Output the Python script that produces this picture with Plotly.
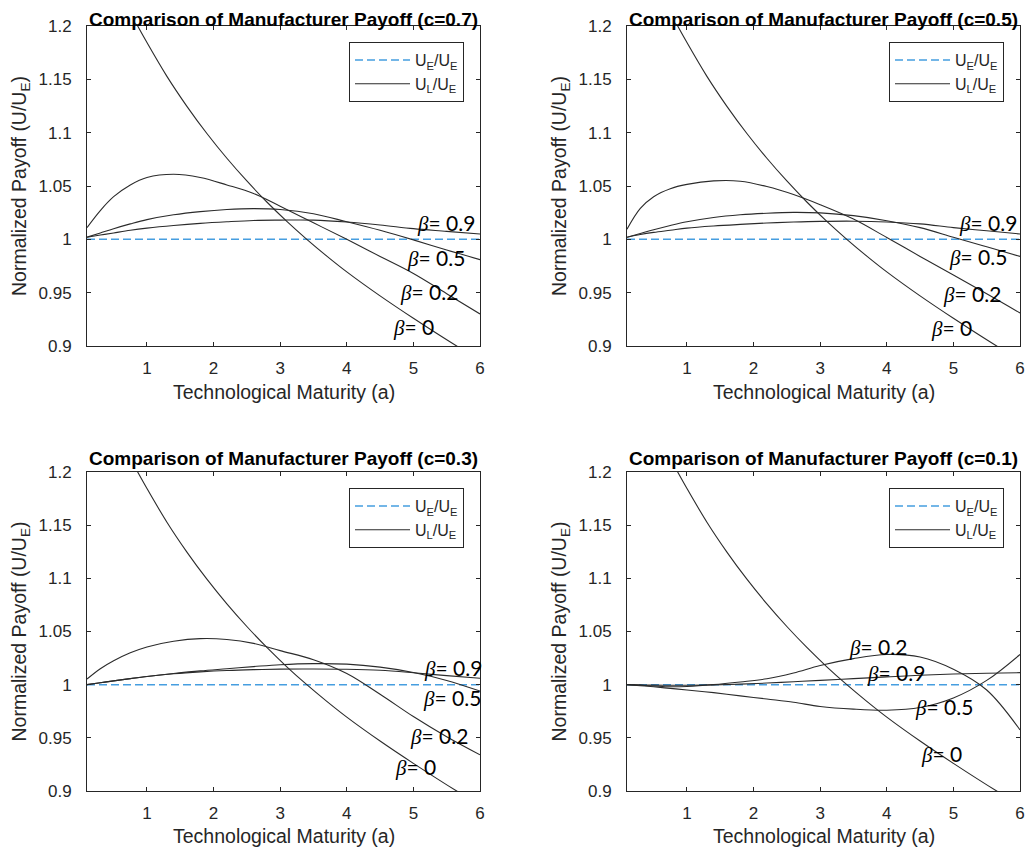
import plotly.graph_objects as go

# ---------------- data ----------------
C_VALUES = ["0.7", "0.5", "0.3", "0.1"]

A_GRID = [0.1, 0.3, 0.5, 0.75, 1.0, 1.4, 1.8, 2.2, 2.6, 3.0, 3.5, 4.0, 4.5, 5.0, 5.5, 6.0]
A_GRID_B0 = [0.7, 0.8, 1.0, 1.3, 1.6, 1.9, 2.2, 2.5, 2.8, 3.1, 3.4, 3.7, 4.0, 4.5, 5.0, 5.65, 6.0]

BASE_X = [0.1, 6.0]
BASE_Y = [1.0, 1.0]

# c = 0.7
C07_B0 = [1.219, 1.207, 1.1845, 1.1528, 1.1247, 1.0992, 1.076, 1.0547, 1.035, 1.0168, 1.0, 0.9843, 0.9695, 0.947, 0.926, 0.900, 0.887]
C07_B2 = [1.011, 1.027, 1.040, 1.051, 1.058, 1.061, 1.058, 1.051, 1.043, 1.031, 1.0155, 1.0, 0.984, 0.968, 0.949, 0.930]
C07_B5 = [1.002, 1.006, 1.010, 1.0145, 1.0185, 1.023, 1.026, 1.028, 1.0288, 1.028, 1.024, 1.0165, 1.0085, 0.9995, 0.990, 0.981]
C07_B9 = [1.002, 1.004, 1.006, 1.0085, 1.0105, 1.013, 1.015, 1.0165, 1.0177, 1.018, 1.018, 1.0163, 1.0135, 1.010, 1.0075, 1.005]

# c = 0.5
C05_B0 = [1.219, 1.207, 1.1845, 1.1528, 1.1247, 1.0992, 1.076, 1.0547, 1.035, 1.0168, 1.0, 0.9843, 0.9695, 0.947, 0.926, 0.900, 0.887]
C05_B2 = [1.0095, 1.029, 1.040, 1.0475, 1.0515, 1.0548, 1.0545, 1.0495, 1.042, 1.0325, 1.019, 1.0017, 0.984, 0.9665, 0.949, 0.931]
C05_B5 = [1.002, 1.0055, 1.009, 1.013, 1.0165, 1.0205, 1.023, 1.0245, 1.0253, 1.0248, 1.0222, 1.0175, 1.011, 1.002, 0.993, 0.984]
C05_B9 = [1.002, 1.0045, 1.0065, 1.0085, 1.0105, 1.0125, 1.014, 1.0153, 1.0162, 1.0168, 1.017, 1.0163, 1.0145, 1.011, 1.008, 1.005]

# c = 0.3
C03_B0 = [1.219, 1.207, 1.1845, 1.1528, 1.1247, 1.0992, 1.076, 1.0547, 1.035, 1.0168, 1.0, 0.9843, 0.9695, 0.947, 0.926, 0.900, 0.887]
C03_B2 = [1.0053, 1.015, 1.0225, 1.030, 1.0355, 1.0408, 1.0433, 1.0425, 1.0388, 1.032, 1.0235, 1.0105, 0.991, 0.970, 0.951, 0.934]
C03_B5 = [1.0, 1.0018, 1.0036, 1.0057, 1.0077, 1.0105, 1.013, 1.015, 1.017, 1.0188, 1.0198, 1.0193, 1.0165, 1.0115, 1.004, 0.994]
C03_B9 = [1.0, 1.0018, 1.0036, 1.0057, 1.0077, 1.0102, 1.012, 1.0133, 1.0141, 1.0146, 1.0148, 1.0145, 1.0135, 1.0112, 1.0085, 1.006]

# c = 0.1
C01_B0 = [1.219, 1.207, 1.1845, 1.1528, 1.1247, 1.0992, 1.076, 1.0547, 1.035, 1.0168, 1.0, 0.9843, 0.9695, 0.947, 0.926, 0.900, 0.887]
C01_B2 = [1.0, 0.9995, 0.9988, 0.998, 0.9983, 1.0, 1.0025, 1.0055, 1.011, 1.018, 1.0245, 1.0284, 1.026, 1.0145, 0.995, 0.9575]
C01_B5 = [1.0, 0.999, 0.998, 0.9965, 0.995, 0.9925, 0.9895, 0.9865, 0.9835, 0.9795, 0.977, 0.976, 0.9785, 0.9875, 1.004, 1.0284]
C01_B9 = [1.0, 0.9998, 0.9996, 0.9995, 0.9995, 0.9998, 1.0005, 1.0015, 1.0028, 1.004, 1.0057, 1.0073, 1.0088, 1.0100, 1.0108, 1.0113]

Y_TICKS = [0.9, 0.95, 1.0, 1.05, 1.1, 1.15, 1.2]
Y_TICK_TEXT = ["0.9", "0.95", "1", "1.05", "1.1", "1.15", "1.2"]
X_TICKS = [1, 2, 3, 4, 5, 6]

BETA_NAMES = ["0", "0.2", "0.5", "0.9"]

# label anchor positions (left edge of text, vertical centre) in data units
LABELS_C07 = [(4.66, 0.918), (4.77, 0.951), (4.87, 0.9825), (5.02, 1.0153)]
LABELS_C05 = [(4.63, 0.917), (4.81, 0.949), (4.90, 0.9834), (5.05, 1.0153)]
LABELS_C03 = [(4.69, 0.9226), (4.92, 0.9517), (5.11, 0.9875), (5.13, 1.0157)]
LABELS_C01 = [(4.48, 0.9348), (3.40, 1.0355), (4.39, 0.979), (3.67, 1.011)]

# ---------------- layout helpers ----------------
# the page body adds an 8px margin, so the figure is sized to fill the window exactly
OFF = 8
FW, FH = 1033 - 2 * OFF, 856 - 2 * OFF


def px_x(xr):
    return (xr - OFF) / FW


def px_y(yr):
    return 1 - (yr - OFF) / FH


XD_L = [px_x(87), px_x(480)]
XD_R = [px_x(627), px_x(1020)]
YD_T = [px_y(346), px_y(26)]
YD_B = [px_y(791), px_y(472)]

AX_COLOR = "#262626"
CURVE_COLOR = "#2b2b2b"
BLUE = "rgb(70,158,224)"
FONT = "Liberation Sans, Arial, sans-serif"

panels = [
    dict(c=C_VALUES[0], curves=[C07_B0, C07_B2, C07_B5, C07_B9], labels=LABELS_C07, left=True, top=True, n=1),
    dict(c=C_VALUES[1], curves=[C05_B0, C05_B2, C05_B5, C05_B9], labels=LABELS_C05, left=False, top=True, n=2),
    dict(c=C_VALUES[2], curves=[C03_B0, C03_B2, C03_B5, C03_B9], labels=LABELS_C03, left=True, top=False, n=3),
    dict(c=C_VALUES[3], curves=[C01_B0, C01_B2, C01_B5, C01_B9], labels=LABELS_C01, left=False, top=False, n=4),
]

fig = go.Figure()
annotations = []
layout_axes = {}

for p in panels:
    n = p["n"]
    xa = "x" if n == 1 else f"x{n}"
    ya = "y" if n == 1 else f"y{n}"
    leg = "legend" if n == 1 else f"legend{n}"
    xd = XD_L if p["left"] else XD_R
    yd = YD_T if p["top"] else YD_B

    fig.add_trace(go.Scatter(
        x=BASE_X, y=BASE_Y, mode="lines", xaxis=xa, yaxis=ya,
        line=dict(color=BLUE, width=1.5, dash="8px,4px"),
        name="U<sub>E</sub>/U<sub>E</sub>", legend=leg, showlegend=True,
        hoverinfo="skip"))
    for i, yv in enumerate(p["curves"]):
        xv = A_GRID_B0 if i == 0 else A_GRID
        fig.add_trace(go.Scatter(
            x=xv, y=yv, mode="lines", xaxis=xa, yaxis=ya,
            line=dict(color=CURVE_COLOR, width=1.1, shape="spline", smoothing=1.0),
            name="U<sub>L</sub>/U<sub>E</sub>", legend=leg, showlegend=(i == 0),
            hoverinfo="skip"))

    axis_common = dict(
        showline=True, linecolor=AX_COLOR, linewidth=1, mirror="ticks",
        ticks="inside", ticklen=4, tickwidth=1, tickcolor=AX_COLOR,
        showgrid=False, zeroline=False, automargin=False,
        tickfont=dict(family=FONT, size=17, color=AX_COLOR),
    )
    xkey = "xaxis" if n == 1 else f"xaxis{n}"
    ykey = "yaxis" if n == 1 else f"yaxis{n}"
    layout_axes[xkey] = dict(axis_common, domain=xd, range=[0.1, 6], tickvals=X_TICKS,
                             anchor=ya, ticklabelstandoff=7)
    layout_axes[ykey] = dict(axis_common, domain=yd, range=[0.9, 1.2], tickvals=Y_TICKS,
                             ticktext=Y_TICK_TEXT, anchor=xa, ticklabelstandoff=11)

    # legend
    layout_axes[leg] = dict(
        x=px_x(349 if p["left"] else 889), y=px_y(42 if p["top"] else 488),
        xanchor="left", yanchor="top",
        bgcolor="white", bordercolor=AX_COLOR, borderwidth=1,
        font=dict(family=FONT, size=16, color=AX_COLOR),
        itemwidth=55, tracegroupgap=0)

    # beta labels
    for (lxv, lyv), bname in zip(p["labels"], BETA_NAMES):
        annotations.append(dict(
            x=lxv, y=lyv, xref=xa, yref=ya, xanchor="left", yanchor="middle",
            showarrow=False,
            text=f'<span style="font-family:Liberation Serif"><i>β</i></span>= {bname}',
            font=dict(family="Lato, Open Sans, sans-serif", size=21, color="black")))

    # panel title
    xc = (xd[0] + xd[1]) / 2
    if p["top"]:
        title_pos = dict(y=1.0, yanchor="top")
    else:
        title_pos = dict(y=px_y(458), yanchor="middle")
    annotations.append(dict(
        x=xc, xref="paper", yref="paper", xanchor="center", showarrow=False,
        borderpad=0, text=f"<b>Comparison of Manufacturer Payoff (c={p['c']})</b>",
        font=dict(family=FONT, size=19, color="black"), **title_pos))
    # x axis title
    annotations.append(dict(
        x=xc, y=px_y(404 if p["top"] else 848), xref="paper", yref="paper",
        xanchor="center", yanchor="bottom", showarrow=False, borderpad=0,
        text="Technological Maturity (a)",
        font=dict(family=FONT, size=19.5, color=AX_COLOR)))
    # y axis title
    annotations.append(dict(
        x=px_x(20 if p["left"] else 560),
        y=(yd[0] + yd[1]) / 2, xref="paper", yref="paper",
        xanchor="center", yanchor="middle", showarrow=False, textangle=-90,
        text="Normalized Payoff (U/U<sub>E</sub>)",
        font=dict(family=FONT, size=19.5, color=AX_COLOR)))

fig.update_layout(
    template="none",
    width=FW, height=FH,
    margin=dict(l=0, r=0, t=0, b=0, pad=0),
    paper_bgcolor="white", plot_bgcolor="white",
    annotations=annotations,
    **layout_axes,
)

fig.write_html("out.html")
